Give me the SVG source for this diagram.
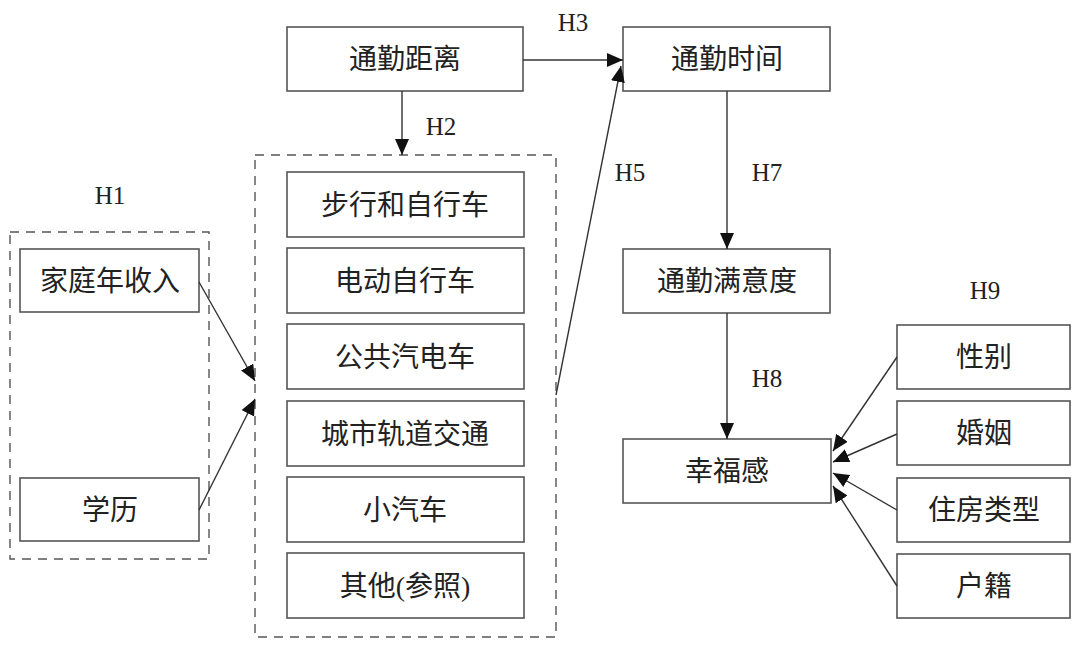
<svg xmlns="http://www.w3.org/2000/svg" width="1080" height="647" viewBox="0 0 1080 647">
<style>
.box{fill:#fff;stroke:#555;stroke-width:1.6}
.grp{fill:none;stroke:#555;stroke-width:1.4;stroke-dasharray:9 7}
.t{font-family:"Liberation Serif","Noto Sans CJK SC",sans-serif;font-size:28px;fill:#222;text-anchor:middle;dominant-baseline:central}
.h{font-family:"Liberation Serif",serif;font-size:25px;fill:#222;text-anchor:middle;dominant-baseline:central}
.c{fill:none;stroke:#333;stroke-width:1.4}
</style>
<defs>
<marker id="arr" viewBox="0 0 16 14" refX="16" refY="7" markerWidth="16" markerHeight="14" markerUnits="userSpaceOnUse" orient="auto">
<path d="M0,0 L16,7 L0,14 Z" fill="#111"/>
</marker>
</defs>
<g id="group-left"><rect class="grp" x="10" y="232" width="199" height="327"/></g>
<g id="group-mid"><rect class="grp" x="255" y="155" width="301" height="482"/></g>
<g id="n-income"><rect class="box" x="20" y="249" width="179" height="63"/><text class="t" x="110" y="281">家庭年收入</text></g>
<g id="n-edu"><rect class="box" x="20" y="478" width="179" height="63"/><text class="t" x="110" y="510">学历</text></g>
<g id="n-dist"><rect class="box" x="287" y="27" width="236" height="64"/><text class="t" x="405" y="59">通勤距离</text></g>
<g id="n-time"><rect class="box" x="623" y="27" width="207" height="64"/><text class="t" x="727" y="59">通勤时间</text></g>
<g id="n-walk"><rect class="box" x="287" y="172" width="237" height="65"/><text class="t" x="405" y="205">步行和自行车</text></g>
<g id="n-ebike"><rect class="box" x="287" y="248" width="237" height="65"/><text class="t" x="405" y="281">电动自行车</text></g>
<g id="n-bus"><rect class="box" x="287" y="324" width="237" height="65"/><text class="t" x="405" y="357">公共汽电车</text></g>
<g id="n-rail"><rect class="box" x="287" y="401" width="237" height="65"/><text class="t" x="405" y="434">城市轨道交通</text></g>
<g id="n-car"><rect class="box" x="287" y="477" width="237" height="65"/><text class="t" x="405" y="510">小汽车</text></g>
<g id="n-other"><rect class="box" x="287" y="553" width="237" height="65"/><text class="t" x="405" y="586">其他(参照)</text></g>
<g id="n-sat"><rect class="box" x="623" y="249" width="207" height="64"/><text class="t" x="727" y="281">通勤满意度</text></g>
<g id="n-happy"><rect class="box" x="623" y="439" width="208" height="64"/><text class="t" x="727" y="471">幸福感</text></g>
<g id="n-gender"><rect class="box" x="897" y="325" width="173" height="64"/><text class="t" x="984" y="357">性别</text></g>
<g id="n-marriage"><rect class="box" x="897" y="401" width="173" height="64"/><text class="t" x="984" y="433">婚姻</text></g>
<g id="n-housing"><rect class="box" x="897" y="478" width="173" height="64"/><text class="t" x="984" y="510">住房类型</text></g>
<g id="n-hukou"><rect class="box" x="897" y="554" width="173" height="64"/><text class="t" x="984" y="586">户籍</text></g>
<g id="labels">
<text class="h" x="110" y="195">H1</text>
<text class="h" x="441" y="126">H2</text>
<text class="h" x="573" y="22">H3</text>
<text class="h" x="630" y="172">H5</text>
<text class="h" x="767" y="172">H7</text>
<text class="h" x="767" y="378">H8</text>
<text class="h" x="985" y="290">H9</text>
</g>
<g id="connectors">
<line class="c" x1="199" y1="282" x2="255" y2="381" marker-end="url(#arr)"/>
<line class="c" x1="199" y1="510" x2="255" y2="399" marker-end="url(#arr)"/>
<line class="c" x1="402" y1="91" x2="402" y2="155" marker-end="url(#arr)"/>
<line class="c" x1="523" y1="60" x2="623" y2="60" marker-end="url(#arr)"/>
<line class="c" x1="556" y1="395" x2="621" y2="66" marker-end="url(#arr)"/>
<line class="c" x1="727" y1="91" x2="727" y2="249" marker-end="url(#arr)"/>
<line class="c" x1="727" y1="313" x2="727" y2="439" marker-end="url(#arr)"/>
<line class="c" x1="897" y1="357" x2="833" y2="451" marker-end="url(#arr)"/>
<line class="c" x1="897" y1="434" x2="833" y2="462" marker-end="url(#arr)"/>
<line class="c" x1="897" y1="510" x2="833" y2="473" marker-end="url(#arr)"/>
<line class="c" x1="897" y1="586" x2="833" y2="486" marker-end="url(#arr)"/>
</g>
</svg>
